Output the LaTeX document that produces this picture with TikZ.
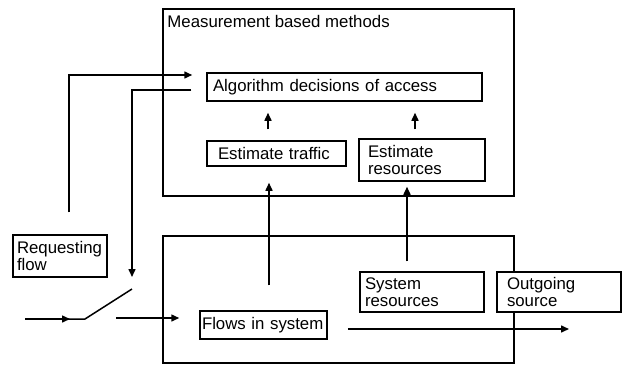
\documentclass[tikz,border=0pt]{standalone}
\usepackage{fontspec}
\setmainfont{Liberation Sans}
\usepackage{tikz}
\usetikzlibrary{arrows.meta}

\tikzset{
	blk/.style={draw=black,line width=1.5pt,fill=white,inner ysep=0pt,align=left,font=\fontsize{16.8}{17}\selectfont},
	bigblk/.style={draw=black,line width=1.5pt,inner sep=0pt},
	arr/.style={line width=1.5pt,-{Triangle[length=8pt,width=7pt]}},
	wire/.style={line width=1.5pt},
}

\begin{document}
\hyphenpenalty=10000
\exhyphenpenalty=10000
\begin{tikzpicture}[x=1pt,y=-1pt]
			
			% 引入 calc 包
			\usetikzlibrary{calc}
			
			\useasboundingbox (0,0) rectangle (623,364);
			
			% 两个大框
			\node[bigblk,minimum width=351pt,minimum height=187pt,
			      label={[anchor=north west,inner xsep=5pt,inner ysep=7pt,font=\fontsize{16.8}{17}\selectfont]north west:Measurement based methods}] (methods) at (338.5,102.5) {};
			\node[bigblk,minimum width=351pt,minimum height=127pt] (system) at (338.5,299.5) {};
			
			% 各个小框
			\node[blk,text width=263pt,inner xsep=6pt,minimum height=28pt] (algo) at (344.5,87) {Algorithm decisions of access};
			\node[blk,text width=117pt,inner xsep=11pt,minimum height=25pt] (traffic) at (276.5,153.5) {Estimate traffic};
			\node[blk,text width=108pt,inner xsep=9pt,minimum height=42pt] (estres) at (422,160) {Estimate\\resources};
			\node[blk,text width=86pt,inner xsep=4pt,minimum height=42pt] (request) at (60,256) {Requesting\\flow};
			\node[blk,text width=123pt,inner xsep=2pt,minimum height=28pt] (flows) at (263.5,325) {Flows in system};
			\node[blk,text width=114pt,inner xsep=5pt,minimum height=40pt] (sysres) at (422,292) {System\\resources};
			\node[blk,text width=104pt,inner xsep=10pt,minimum height=40pt] (outsrc) at (559,292) {Outgoing\\source};
			
			% 开关的端点
			\coordinate (src) at (25,319);
			\coordinate (swa) at (85,319);
			\coordinate (swb) at (132,289);
			\coordinate (swc) at (116,318);
			\coordinate (sink) at (569,329);
			
			% 竖直箭头的起点
			\coordinate (t1) at ($(traffic.north)+(-8.5,0)$);
			\coordinate (t2) at ($(estres.north)+(-7,0)$);
			\coordinate (t3) at ($(flows.north)+(5.5,0)$);
			\coordinate (t4) at ($(sysres.north)+(-15,0)$);
			
			% 估计 -> 决策
			\draw[arr,shorten <=11pt,shorten >=11pt] (t1) -- (t1 |- algo.south);
			\draw[arr,shorten <=9pt,shorten >=11pt] (t2) -- (t2 |- algo.south);
			
			% 系统 -> 估计
			\draw[arr,shorten <=25pt,shorten >=16pt] (t3) -- (t3 |- traffic.south);
			\draw[arr,shorten <=10pt,shorten >=5pt] (t4) -- (t4 |- estres.south);
			
			% 输出
			\draw[arr,shorten <=20pt] (flows.east |- sink) -- (sink);
			
			% 开关
			\draw[wire] (src) -- (swa) -- (swb);
			\draw[arr] (src) -- ($(src)!0.75!(swa)$);
			\draw[arr,shorten >=20pt] (swc) -- (swc -| flows.west);
			
			% 反馈线
			\draw[arr,shorten <=22pt,shorten >=14pt] ($(request.north)+(9,0)$) |- ($(algo.west)+(0,-12)$);
			\draw[arr,shorten <=15pt,shorten >=12pt] ($(algo.west)+(0,3)$) -| (swb);
			
\end{tikzpicture}
\end{document}
